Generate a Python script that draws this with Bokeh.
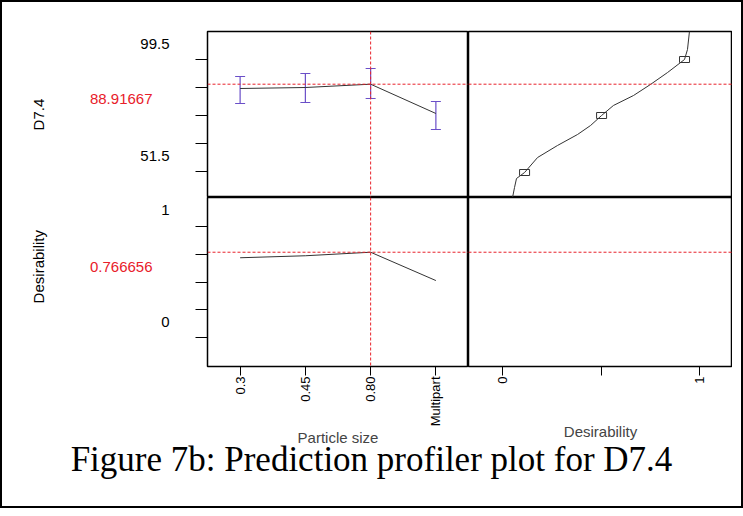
import math
from bokeh.plotting import figure
from bokeh.layouts import column, row
from bokeh.models import Span, FixedTicker, Div
from bokeh.core.properties import value
from bokeh.embed import file_html
from bokeh.resources import INLINE

cats = ["0.3", "0.45", "0.80", "Multipart"]
d74_mean = [87.07, 87.5, 88.91667, 76.36]
d74_lo = [80.64, 81.07, 82.79, 69.5]
d74_hi = [92.21, 93.5, 95.64, 81.5]
des_vals = [0.717, 0.735, 0.766656, 0.513]
cur_d = 88.91667
cur_des = 0.766656
curve_des = [0.051, 0.061, 0.071, 0.112, 0.178, 0.279, 0.381, 0.447, 0.503, 0.563, 0.665, 0.751, 0.838, 0.924, 0.939, 0.949]
curve_d74 = [40.36, 44.64, 48.5, 51.07, 57.5, 62.64, 67.36, 71.21, 75.5, 79.79, 84.07, 88.79, 93.93, 99.5, 103.79, 111.5]
box_des = [0.112, 0.503, 0.924]
box_d74 = [51.07, 75.5, 99.5]
d74_ticks = [99.5, 87.5, 75.5, 63.5, 51.5]
des_ticks = [0, 0.25, 0.5, 0.75, 1]
d74_labels = ["99.5", "51.5"]
des_labels = ["1", "0"]

YR1 = (40.36, 111.5)
YR2 = (-0.2566, 1.2566)
XR2 = (-0.1726, 1.1675)
FONT = "Liberation Sans"
RED = "#e8202a"
EB = "#6a4fc8"
LW = 191  # width of the left text column frame
TOP = 29
BOT = 74

def base(**kw):
    p = figure(output_backend="svg", toolbar_location=None, **kw)
    p.outline_line_color = "black"
    p.outline_line_width = 1.5
    p.xgrid.visible = False
    p.ygrid.visible = False
    p.min_border_top = 0
    p.min_border_bottom = 0
    p.min_border_left = 0
    p.min_border_right = 0
    p.background_fill_color = "white"
    p.border_fill_color = "white"
    return p

def style_axis(ax, ticks):
    ax.ticker = FixedTicker(ticks=ticks)
    ax.major_tick_out = 12
    ax.major_tick_in = 0
    ax.minor_tick_out = 0
    ax.minor_tick_in = 0
    ax.axis_line_color = None
    ax.major_tick_line_color = "black"
    ax.major_label_overrides = {t: "" for t in ticks}
    ax.major_label_text_font_size = "1px"
    ax.major_label_standoff = 0

def style_x(ax, label, standoff):
    ax.major_tick_out = 9
    ax.major_tick_in = 0
    ax.minor_tick_out = 0
    ax.minor_tick_in = 0
    ax.axis_line_color = None
    ax.major_label_orientation = math.pi / 2
    ax.major_label_standoff = 1
    ax.major_label_text_font = FONT
    ax.major_label_text_font_size = "13px"
    ax.major_label_text_color = "black"
    ax.axis_label = label
    ax.axis_label_text_font = FONT
    ax.axis_label_text_font_style = "normal"
    ax.axis_label_text_font_size = "15px"
    ax.axis_label_standoff = standoff

def side(yr, fh, top, bottom, title, tvals, tlabels, cur, curtxt, title_y):
    s = base(x_range=(0, LW), y_range=yr, frame_width=LW, frame_height=fh,
             x_axis_location=None, y_axis_location=None)
    s.outline_line_color = None
    s.min_border_top = top
    s.min_border_bottom = bottom
    s.min_border_left = 2
    s.text(x=[LW - 26] * len(tvals), y=tvals, text=tlabels, y_offset=-16,
           text_align="right", text_baseline="middle", text_font=value(FONT), text_font_size="15px")
    s.text(x=[LW - 43], y=[cur], text=[curtxt], y_offset=15, text_color=RED,
           text_align="right", text_baseline="middle", text_font=value(FONT), text_font_size="15px")
    s.text(x=[34], y=[title_y], text=[title], angle=math.pi / 2,
           text_align="center", text_baseline="middle", text_font=value(FONT), text_font_size="15px")
    return s

s1 = side(YR1, 166, TOP, 0, "D7.4", d74_ticks[::4], d74_labels, cur_d, "88.91667", 75.9)
s2 = side(YR2, 169, 0, BOT, "Desirability", des_ticks[::-4], des_labels, cur_des, "0.766656", 0.637)

# top-left
tl = base(x_range=cats, y_range=YR1, frame_width=261, frame_height=166, x_axis_location=None)
tl.min_border_left = 12
tl.min_border_top = TOP
style_axis(tl.yaxis[0], d74_ticks)
tl.segment(x0=cats, y0=d74_lo, x1=cats, y1=d74_hi, line_color=EB, line_width=1.2)
tl.scatter(x=cats, y=d74_lo, marker="dash", size=10, line_color=EB)
tl.scatter(x=cats, y=d74_hi, marker="dash", size=10, line_color=EB)
tl.line(x=cats, y=d74_mean, line_color="#333333", line_width=1)
tl.add_layout(Span(location=cur_d, dimension="width", line_color=RED, line_dash="3 2", line_width=1))
tl.add_layout(Span(location=2.5, dimension="height", line_color=RED, line_dash="3 2", line_width=1))

# top-right
tr = base(x_range=XR2, y_range=YR1, frame_width=264, frame_height=166, x_axis_location=None, y_axis_location=None)
tr.min_border_top = TOP
tr.line(x=curve_des, y=curve_d74, line_color="#333333", line_width=1)
tr.rect(x=box_des, y=box_d74, width=10, height=6, width_units="screen", height_units="screen",
        fill_color=None, line_color="#333333")
tr.add_layout(Span(location=cur_d, dimension="width", line_color=RED, line_dash="3 2", line_width=1))

# bottom-left
bl = base(x_range=cats, y_range=YR2, frame_width=261, frame_height=169)
bl.min_border_left = 12
bl.min_border_bottom = BOT
style_axis(bl.yaxis[0], des_ticks)
style_x(bl.xaxis[0], "Particle size", 0)
bl.line(x=cats, y=des_vals, line_color="#333333", line_width=1)
bl.add_layout(Span(location=cur_des, dimension="width", line_color=RED, line_dash="3 2", line_width=1))
bl.add_layout(Span(location=2.5, dimension="height", line_color=RED, line_dash="3 2", line_width=1))

# bottom-right
br = base(x_range=XR2, y_range=YR2, frame_width=264, frame_height=169, y_axis_location=None)
br.min_border_bottom = BOT
xb = br.xaxis[0]
xb.ticker = FixedTicker(ticks=[0, 0.5, 1])
xb.major_label_overrides = {0.5: ""}
style_x(xb, "Desirability", 36)
br.add_layout(Span(location=cur_des, dimension="width", line_color=RED, line_dash="3 2", line_width=1))

cap = Div(text="Figure 7b: Prediction profiler plot for D7.4", width=729, height=60,
          styles={"font-family": "Liberation Serif", "font-size": "35px", "text-align": "center",
                  "color": "black", "line-height": "38px", "margin-top": "-8px"})

grid = column(row(s1, tl, tr, spacing=0), row(s2, bl, br, spacing=0), cap, spacing=0,
              styles={"border": "2px solid black", "background": "white"})
open("out.html", "w").write(file_html(grid, INLINE))
